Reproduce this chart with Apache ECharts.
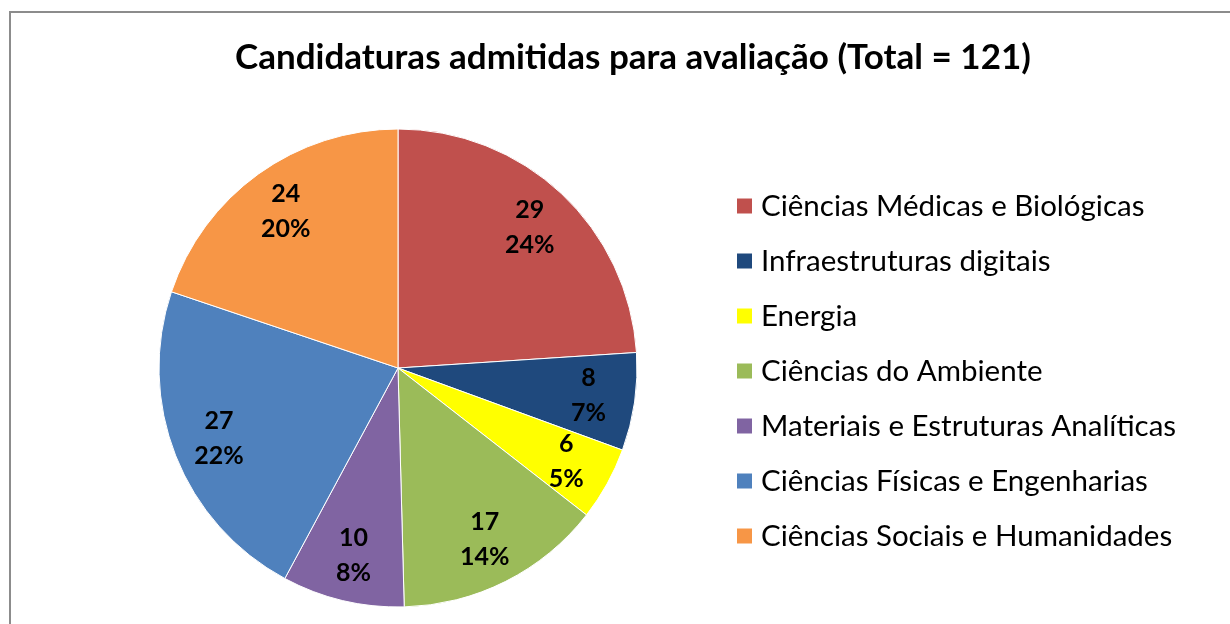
<!DOCTYPE html>
<html>
<head>
<meta charset="utf-8">
<script src="https://cdn.jsdelivr.net/npm/echarts@6/dist/echarts.min.js"></script>
<style>
  html, body { margin: 0; padding: 0; background: #fff; }
  #chart { width: 1230px; height: 624px; }
</style>
</head>
<body>
<div id="chart"></div>
<script>
  const TITLE = "Candidaturas admitidas para avaliação (Total = 121)";
  const CATEGORIES = [
    "Ciências Médicas e Biológicas",
    "Infraestruturas digitais",
    "Energia",
    "Ciências do Ambiente",
    "Materiais e Estruturas Analíticas",
    "Ciências Físicas e Engenharias",
    "Ciências Sociais e Humanidades"
  ];
  const VALUES = [29, 8, 6, 17, 10, 27, 24];
  const COLORS = ["#C0504D", "#1F497D", "#FFFF00", "#9BBB59", "#8064A2", "#4F81BD", "#F79646"];

  const FONT = "Lato, 'Open Sans', sans-serif";
  const total = VALUES.reduce((a, b) => a + b, 0);
  const pieData = CATEGORIES.map((name, i) => ({ name, value: VALUES[i], itemStyle: { color: COLORS[i] } }));
  // invisible ring, only there to put the labels further out than "inside" would
  const labelData = CATEGORIES.map((name, i) => ({ name, value: VALUES[i] }));

  const chart = echarts.init(document.getElementById("chart"), null, { renderer: "canvas" });
  chart.setOption({
    animation: false,
    title: {
      text: TITLE, left: 230, top: 35,
      textStyle: { fontFamily: FONT, fontSize: 35, fontWeight: "bold", color: "#000" }
    },
    graphic: [{
      type: "rect", silent: true,
      shape: { x: 10, y: 12, width: 1240, height: 640 },
      style: { fill: "none", stroke: "#8c8c8c", lineWidth: 2 }
    }],
    legend: {
      orient: "vertical", left: 730, top: 184,
      data: CATEGORIES, itemWidth: 17, itemHeight: 17, itemGap: 21,
      icon: "rect", selectedMode: false,
      textStyle: { fontFamily: FONT, fontSize: 29.5, color: "#000", lineHeight: 34, padding: [0, 0, 0, 3] }
    },
    series: [
      {
        type: "pie", center: [398, 368], radius: 239, startAngle: 90, clockwise: true,
        data: pieData, silent: true,
        itemStyle: { borderColor: "#fff", borderWidth: 1 },
        label: { show: false }, labelLine: { show: false }
      },
      {
        type: "pie", center: [398, 368], radius: [140, 239], startAngle: 90, clockwise: true,
        data: labelData, silent: true, legendHoverLink: false, avoidLabelOverlap: false,
        itemStyle: { color: "rgba(0,0,0,0)", borderWidth: 0 },
        label: {
          show: true, position: "inside",
          formatter: (p) => p.value + "\n" + Math.round(p.value / total * 100) + "%",
          fontFamily: FONT, fontSize: 25, fontWeight: "bold", color: "#000", lineHeight: 35
        },
        labelLayout: { hideOverlap: false },
        labelLine: { show: false }
      }
    ]
  });
</script>
</body>
</html>
